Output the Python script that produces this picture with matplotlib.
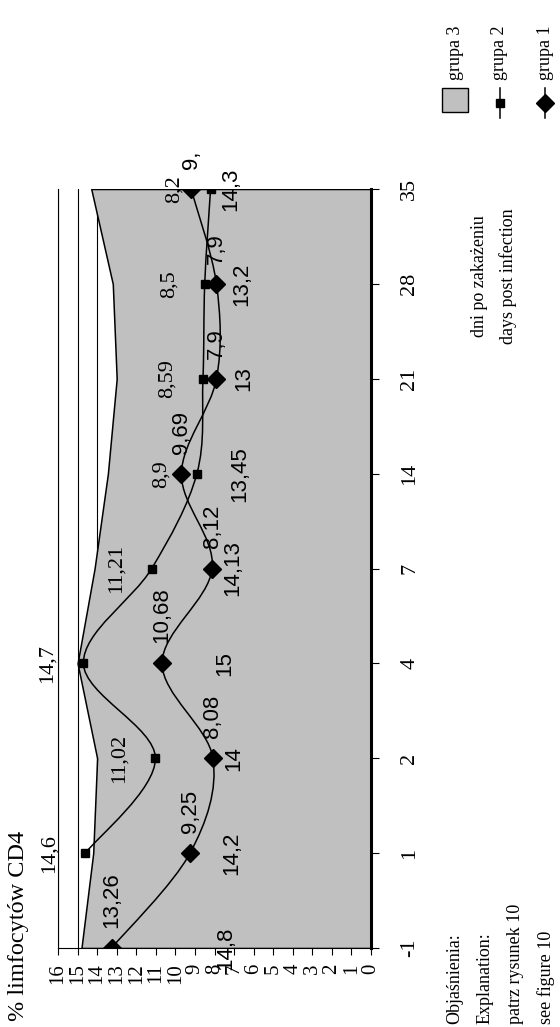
import numpy as np
import matplotlib
matplotlib.use('Agg')
from matplotlib import pyplot as plt
from matplotlib.path import Path
from matplotlib.patches import PathPatch, Rectangle
from matplotlib.lines import Line2D
from matplotlib.transforms import Bbox, TransformedBbox

plt.rcParams['font.family'] = ['Liberation Serif', 'DejaVu Serif']

# data read from the (rotated) chart
days = ['-1', '1', '2', '4', '7', '14', '21', '28', '35']
grupa1 = [13.26, 9.25, 8.08, 10.68, 8.12, 9.69, 7.9, 7.9, 9.2]
grupa2 = [None, 14.6, 11.02, 14.7, 11.21, 8.9, 8.59, 8.5, 8.2]
grupa3 = [14.8, 14.2, 14, 15, 14.13, 13.45, 13, 13.2, 14.3]
value_ticks = list(range(0, 17))

W, H = 560, 1027
SANS = 'Liberation Sans'
SERIF = 'Liberation Serif'


def fmt(v):
    return '{:g}'.format(v).replace('.', ',')


def smooth_path(xs, ys):
    # Excel-like smoothed line: cubic bezier through the points
    pts = np.column_stack([xs, ys]).astype(float)
    n = len(pts)
    verts = [pts[0]]
    codes = [Path.MOVETO]
    for i in range(n - 1):
        p0 = pts[i - 1] if i > 0 else pts[i]
        p1 = pts[i]
        p2 = pts[i + 1]
        p3 = pts[i + 2] if i + 2 < n else pts[i + 1]
        verts += [p1 + (p2 - p0) / 6, p2 - (p3 - p1) / 6, p2]
        codes += [Path.CURVE4] * 3
    return Path(verts, codes)


fig = plt.figure(figsize=(W / 100, H / 100), dpi=100)
ax = fig.add_axes([58 / W, 79 / H, 313 / W, 759 / H])
idx = np.arange(len(days))

# grupa 3 - area
ax.fill_betweenx(idx, 0, grupa3, facecolor='#c0c0c0', edgecolor='black', lw=1.1, zorder=1)

# grupa 2 - smoothed line with squares
i2 = [i for i, v in enumerate(grupa2) if v is not None]
v2 = [grupa2[i] for i in i2]
ax.add_patch(PathPatch(smooth_path(v2, i2), fill=False, ec='black', lw=1.1, zorder=3))
ax.plot(v2, i2, ls='none', marker='s', ms=6, color='black', zorder=4)

# grupa 1 - smoothed line with diamonds
ax.add_patch(PathPatch(smooth_path(grupa1, idx), fill=False, ec='black', lw=1.1, zorder=3))
ax.plot(grupa1, idx, ls='none', marker='D', ms=9, color='black', zorder=4)

# data labels
for i, v in enumerate(grupa3):
    ax.text(v / 2, i, fmt(v), rotation=90, ha='center', va='center',
            fontsize=16, family=SANS, zorder=5)
for i, v in zip(i2, v2):
    ax.annotate(fmt(v), (v, i), xytext=(-36, 0), textcoords='offset pixels',
                rotation=90, ha='center', va='center', fontsize=16, family=SERIF, zorder=5)
clip = TransformedBbox(Bbox([[0, 0], [1, (H - 152) / H]]), fig.transFigure)
for i, v in enumerate(grupa1):
    t = ax.annotate(fmt(v), (v, i), xytext=(0, 20), textcoords='offset pixels',
                    rotation=90, ha='center', va='bottom', fontsize=16, family=SANS, zorder=5)
    t.set_clip_box(clip)
    t.set_clip_on(True)

# axes
ax.set_xlim(16, 0)
ax.set_ylim(0, len(days) - 1)
ax.set_xticks(value_ticks)
ax.set_xticklabels([str(t) for t in value_ticks])
ax.xaxis.grid(True, color='black', lw=0.8)
ax.set_axisbelow(True)
ax.set_yticks(idx)
ax.set_yticklabels(days)
ax.yaxis.tick_right()
ax.spines['top'].set_visible(False)
ax.spines['left'].set_linewidth(0.8)
ax.spines['bottom'].set_linewidth(0.8)
ax.spines['right'].set_linewidth(2.2)
ax.tick_params(axis='x', direction='out', length=5, width=0.8, labelsize=15, pad=6)
ax.tick_params(axis='y', direction='out', length=6, width=0.8, labelsize=16, pad=15)
for lab in ax.get_xticklabels():
    lab.set_rotation(90)
for lab in ax.get_yticklabels():
    lab.set_rotation(90)
    lab.set_va('center')

# titles and notes
fig.text(19 / W, 1 - 1021 / H, '% limfocytów CD4', rotation=90, ha='center', va='bottom',
         fontsize=17.5)
fig.text(494 / W, 1 - 276 / H, 'dni po zakażeniu\ndays post infection', rotation=90,
         ha='center', va='center', multialignment='center', fontsize=13, linespacing=1.75)
fig.text(501 / W, 1 - 1024 / H, 'Objaśnienia:\nExplanation:\npatrz rysunek 10\nsee figure 10',
         rotation=90, ha='center', va='bottom', multialignment='left', fontsize=13,
         linespacing=2.0)

# legend (rotated, drawn by hand)
leg_names = ['grupa 3', 'grupa 2', 'grupa 1']
leg_x = [455, 500, 545]
for name, x in zip(leg_names, leg_x):
    fig.text(x / W, 1 - 80 / H, name, rotation=90, ha='center', va='bottom', fontsize=13)
fig.add_artist(Rectangle(((leg_x[0] - 13) / W, 1 - 112 / H), 26 / W, 24 / H,
                         transform=fig.transFigure, facecolor='#c0c0c0', edgecolor='black', lw=1))
for x, m, ms in [(leg_x[1], 's', 6), (leg_x[2], 'D', 9)]:
    fig.add_artist(Line2D([x / W, x / W], [1 - 118 / H, 1 - 88 / H], color='black', lw=1.1,
                          transform=fig.transFigure))
    fig.add_artist(Line2D([x / W], [1 - 103 / H], color='black', ls='none', marker=m, ms=ms,
                          transform=fig.transFigure))

fig.savefig('out.png', dpi=100)
